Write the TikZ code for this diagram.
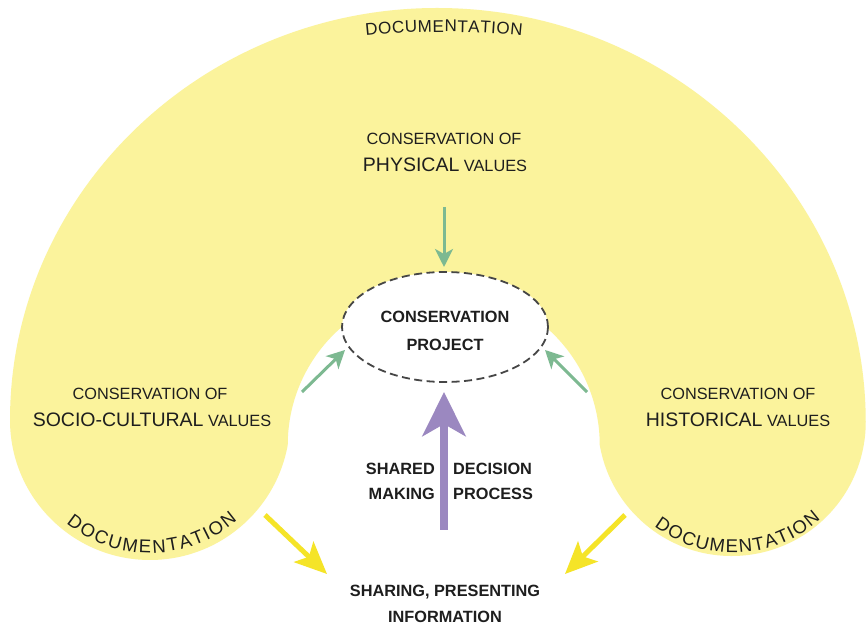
\documentclass[tikz,border=0pt]{standalone}
\usepackage{fontspec}
\setmainfont{Liberation Sans}
\usetikzlibrary{arrows.meta,shapes.geometric,decorations.text}
\definecolor{docyellow}{RGB}{251,243,156}
\definecolor{sage}{RGB}{125,185,145}
\definecolor{lilac}{RGB}{155,136,192}
\definecolor{arrowyellow}{RGB}{245,228,40}
\definecolor{ink}{RGB}{30,30,30}
\definecolor{dashgray}{RGB}{70,70,70}
\newcommand{\regsz}{\fontsize{16.3}{19}\selectfont}
\newcommand{\bigsz}{\fontsize{19.5}{23}\selectfont}
\newcommand{\docsz}{\fontsize{17}{19}\selectfont}
\newcommand{\lobesz}{\fontsize{18.5}{20}\selectfont}
\tikzset{
  lbl/.style={inner sep=0pt, text=ink, font=\regsz},
  boldlbl/.style={inner sep=0pt, text=ink, font=\regsz\bfseries},
  greenarrow/.style={draw=sage, line width=3pt, -{Stealth[length=18pt,width=18pt,inset=5pt]}},
  lilacarrow/.style={draw=lilac, line width=8pt, -{Stealth[length=44pt,width=43pt,inset=12pt]}},
  yellowarrow/.style={draw=arrowyellow, line width=5pt, -{Stealth[length=32pt,width=28pt,inset=7pt]}},
  projellipse/.style={ellipse, draw=dashgray, line width=1.8pt, dash pattern=on 8pt off 4.5pt, fill=white, minimum width=206pt, minimum height=110pt, inner sep=0pt},
  doctext/.style={decorate, decoration={text along path, text color=ink, text align=fit to path}}
}
\begin{document}
\begin{tikzpicture}[x=1pt,y=1pt]
\useasboundingbox (0,0) rectangle (867,626);
\fill[white] (0,0) rectangle (867,626);
% yellow horseshoe
\fill[docyellow] (10,206) arc[start angle=180, end angle=349.7, radius=140]
  arc[start angle=180, end angle=0, radius=156]
  arc[start angle=189.9, end angle=360, radius=134]
  .. controls (865.7,431.7) and (673,618) .. (437,618)
  .. controls (202,618) and (10,432.6) .. (10,206) -- cycle;

% curved DOCUMENTATION labels
\path[doctext, decoration={text={|\docsz|DOCUMENTATION}}] (365.9,590) arc[start angle=95.9, end angle=84.1, radius=760];
\path[doctext, decoration={text={|\lobesz|DOCUMENTATION}}] (66.3,102.6) arc[start angle=231, end angle=311, radius=133];
\path[doctext, decoration={text={|\lobesz|DOCUMENTATION}}] (654.2,99.4) arc[start angle=233, end angle=312, radius=131];

% project ellipse
\node[projellipse] (proj) at (445,299) {};
\node[boldlbl, anchor=base] (projA) at (445,303) {CONSERVATION};
\node[boldlbl, anchor=base] (projB) at (445,275) {PROJECT};

% value labels
\node[lbl, anchor=base] (physA) at (444,481) {CONSERVATION OF};
\node[lbl, anchor=base] (physB) at (445,454) {{\bigsz PHYSICAL} VALUES};
\node[lbl, anchor=base] (socA) at (150,226) {CONSERVATION OF};
\node[lbl, anchor=base] (socB) at (152,199) {{\bigsz SOCIO-CULTURAL} VALUES};
\node[lbl, anchor=base] (hisA) at (738,226) {CONSERVATION OF};
\node[lbl, anchor=base] (hisB) at (738,199) {{\bigsz HISTORICAL} VALUES};

% shared decision making
\node[boldlbl, anchor=base east] (shA) at (435,151) {SHARED};
\node[boldlbl, anchor=base west] (shB) at (453,151) {DECISION};
\node[boldlbl, anchor=base east] (shC) at (435,126) {MAKING};
\node[boldlbl, anchor=base west] (shD) at (453,126) {PROCESS};

% sharing information
\node[boldlbl, anchor=base] (infA) at (445,29) {SHARING, PRESENTING};
\node[boldlbl, anchor=base] (infB) at (445,3) {INFORMATION};

% arrow end points
\coordinate (gTopS) at (444,419);
\coordinate (gTopE) at (444,359);
\coordinate (gLeftS) at (302,234);
\coordinate (gLeftE) at (345,276);
\coordinate (gRightS) at (587,234);
\coordinate (gRightE) at (545,276);
\coordinate (pS) at (444,96);
\coordinate (pE) at (444,234);
\coordinate (yLS) at (265,111);
\coordinate (yLE) at (327,52);
\coordinate (yRS) at (625,111);
\coordinate (yRE) at (565,52);

\draw[greenarrow] (gTopS) -- (gTopE);
\draw[greenarrow] (gLeftS) -- (gLeftE);
\draw[greenarrow] (gRightS) -- (gRightE);
\draw[lilacarrow] (pS) -- (pE);
\draw[yellowarrow] (yLS) -- (yLE);
\draw[yellowarrow] (yRS) -- (yRE);
\end{tikzpicture}
\end{document}
